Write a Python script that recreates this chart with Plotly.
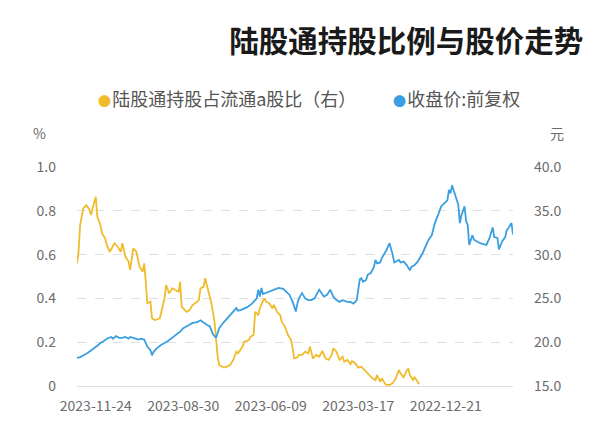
import pandas as pd
import plotly.graph_objects as go

# ---------------- data ----------------
title_text = "陆股通持股比例与股价走势"
price_name = "收盘价:前复权"
ratio_name = "陆股通持股占流通a股比（右）"

holidays = ["2023-01-02", "2023-01-23", "2023-01-24", "2023-01-25", "2023-01-26", "2023-01-27",
            "2023-04-05", "2023-05-01", "2023-05-02", "2023-05-03", "2023-06-22", "2023-06-23",
            "2023-09-29", "2023-10-02", "2023-10-03", "2023-10-04", "2023-10-05", "2023-10-06"]
trading_days = [d.strftime("%Y-%m-%d") for d in pd.bdate_range("2022-10-21", "2023-12-12")
                if d.strftime("%Y-%m-%d") not in holidays]

x_tick_labels = ["2022-12-21", "2023-03-17", "2023-06-09", "2023-08-30", "2023-11-24"]
pct_ticks = [0, 0.2, 0.4, 0.6, 0.8, 1.0]
pct_tick_labels = ["0", "0.2", "0.4", "0.6", "0.8", "1.0"]
price_ticks = [15, 20, 25, 30, 35, 40]

price_dates = [
    "2022-10-21", "2022-10-24", "2022-10-26", "2022-10-27", "2022-10-28", "2022-11-01", "2022-11-03",
    "2022-11-04", "2022-11-08", "2022-11-09", "2022-11-11", "2022-11-15", "2022-11-17", "2022-11-21",
    "2022-11-23", "2022-11-25", "2022-11-28", "2022-11-30", "2022-12-01", "2022-12-02", "2022-12-05",
    "2022-12-07", "2022-12-08", "2022-12-09", "2022-12-13", "2022-12-15", "2022-12-16", "2022-12-19",
    "2022-12-20", "2022-12-22", "2022-12-26", "2022-12-28", "2022-12-30", "2023-01-04", "2023-01-06",
    "2023-01-10", "2023-01-12", "2023-01-17", "2023-01-19", "2023-01-30", "2023-01-31", "2023-02-02",
    "2023-02-06", "2023-02-08", "2023-02-09", "2023-02-14", "2023-02-15", "2023-02-17", "2023-02-20",
    "2023-02-21", "2023-02-24", "2023-02-27", "2023-03-01", "2023-03-02", "2023-03-03", "2023-03-07",
    "2023-03-09", "2023-03-10", "2023-03-14", "2023-03-15", "2023-03-16", "2023-03-17", "2023-03-20",
    "2023-03-22", "2023-03-24", "2023-03-28", "2023-03-31", "2023-04-04", "2023-04-07", "2023-04-11",
    "2023-04-13", "2023-04-17", "2023-04-19", "2023-04-24", "2023-04-25", "2023-04-27", "2023-05-04",
    "2023-05-08", "2023-05-10", "2023-05-12", "2023-05-16", "2023-05-17", "2023-05-18", "2023-05-22",
    "2023-05-24", "2023-05-26", "2023-05-30", "2023-06-02", "2023-06-07", "2023-06-12", "2023-06-14",
    "2023-06-16", "2023-06-19", "2023-06-20", "2023-06-21", "2023-06-26", "2023-06-29", "2023-07-04",
    "2023-07-10", "2023-07-12", "2023-07-13", "2023-07-17", "2023-07-19", "2023-07-21", "2023-07-25",
    "2023-07-28", "2023-08-01", "2023-08-03", "2023-08-07", "2023-08-09", "2023-08-11", "2023-08-15",
    "2023-08-17", "2023-08-22", "2023-08-24", "2023-08-28", "2023-08-30", "2023-09-01", "2023-09-05",
    "2023-09-07", "2023-09-11", "2023-09-13", "2023-09-15", "2023-09-19", "2023-09-22", "2023-09-26",
    "2023-09-27", "2023-09-28", "2023-10-10", "2023-10-12", "2023-10-16", "2023-10-18", "2023-10-23",
    "2023-10-25", "2023-10-26", "2023-10-30", "2023-11-01", "2023-11-03", "2023-11-07", "2023-11-09",
    "2023-11-10", "2023-11-15", "2023-11-17", "2023-11-21", "2023-11-23", "2023-11-27", "2023-11-29",
    "2023-12-01", "2023-12-05", "2023-12-08", "2023-12-12",
]
price_values = [
    32.3, 33.6, 33.0, 32.8, 32.0, 31.5, 30.6,
    31.9, 32.0, 33.1, 31.9, 31.1, 31.2, 31.3,
    31.5, 31.7, 32.2, 31.1, 33.4, 33.8, 35.5,
    34.5, 33.6, 35.7, 36.8, 37.9, 37.0, 37.4,
    36.2, 35.9, 35.5, 34.5, 33.6, 32.2, 31.7,
    30.9, 30.1, 29.2, 28.8, 28.6, 28.2, 28.8,
    29.2, 29.1, 29.4, 29.1, 30.0, 31.3, 30.9,
    30.5, 29.6, 29.1, 29.0, 29.4, 28.6, 27.9,
    27.7, 27.1, 26.9, 27.3, 27.2, 25.8, 24.8,
    24.4, 24.6, 24.6, 24.8, 24.6, 24.8, 25.2,
    26.0, 25.4, 25.2, 26.0, 25.6, 25.0, 24.8,
    24.8, 25.0, 25.6, 25.0, 24.4, 23.5, 24.6,
    25.4, 25.8, 26.1, 26.2, 26.0, 25.8, 25.7,
    25.5, 26.2, 25.2, 26.0, 25.0, 24.4, 24.0,
    23.7, 23.6, 23.9, 23.5, 23.1, 22.8, 22.3,
    21.6, 20.5, 20.9, 21.8, 22.0, 22.3, 22.5,
    22.3, 22.2, 22.0, 21.8, 21.6, 21.2, 20.9,
    20.6, 20.4, 20.1, 19.9, 19.7, 19.3, 18.9,
    18.5, 19.1, 19.5, 20.3, 20.4, 20.3, 20.5,
    20.6, 20.4, 20.6, 20.5, 20.5, 20.7, 20.4,
    20.6, 20.4, 20.1, 19.9, 19.6, 19.3, 19.1,
    18.8, 18.6, 18.3, 18.2,
]

ratio_dates = [
    "2023-01-16", "2023-01-17", "2023-01-19", "2023-01-20", "2023-01-31", "2023-02-01", "2023-02-02",
    "2023-02-06", "2023-02-08", "2023-02-09", "2023-02-13", "2023-02-15", "2023-02-17", "2023-02-21",
    "2023-02-22", "2023-02-24", "2023-02-27", "2023-03-01", "2023-03-02", "2023-03-06", "2023-03-08",
    "2023-03-10", "2023-03-14", "2023-03-15", "2023-03-17", "2023-03-21", "2023-03-23", "2023-03-24",
    "2023-03-28", "2023-03-30", "2023-03-31", "2023-04-04", "2023-04-07", "2023-04-11", "2023-04-12",
    "2023-04-14", "2023-04-18", "2023-04-20", "2023-04-24", "2023-04-26", "2023-04-28", "2023-05-05",
    "2023-05-08", "2023-05-10", "2023-05-12", "2023-05-16", "2023-05-17", "2023-05-19", "2023-05-22",
    "2023-05-23", "2023-05-25", "2023-05-29", "2023-05-31", "2023-06-01", "2023-06-05", "2023-06-07",
    "2023-06-08", "2023-06-12", "2023-06-14", "2023-06-15", "2023-06-16", "2023-06-20", "2023-06-21",
    "2023-06-27", "2023-06-28", "2023-06-30", "2023-07-03", "2023-07-06", "2023-07-07", "2023-07-12",
    "2023-07-13", "2023-07-17", "2023-07-19", "2023-07-21", "2023-07-25", "2023-07-28", "2023-07-31",
    "2023-08-01", "2023-08-02", "2023-08-04", "2023-08-08", "2023-08-09", "2023-08-10", "2023-08-11",
    "2023-08-15", "2023-08-16", "2023-08-17", "2023-08-22", "2023-08-24", "2023-08-28", "2023-08-31",
    "2023-09-01", "2023-09-04", "2023-09-06", "2023-09-08", "2023-09-12", "2023-09-14", "2023-09-15",
    "2023-09-19", "2023-09-20", "2023-09-25", "2023-09-27", "2023-09-28", "2023-10-10", "2023-10-11",
    "2023-10-12", "2023-10-13", "2023-10-17", "2023-10-19", "2023-10-23", "2023-10-25", "2023-10-26",
    "2023-10-30", "2023-11-01", "2023-11-02", "2023-11-06", "2023-11-08", "2023-11-13", "2023-11-15",
    "2023-11-16", "2023-11-20", "2023-11-21", "2023-11-23", "2023-11-24", "2023-11-28", "2023-11-29",
    "2023-11-30", "2023-12-04", "2023-12-06", "2023-12-08", "2023-12-11", "2023-12-12",
]
ratio_values = [
    0.008, 0.02, 0.04, 0.027, 0.05, 0.08, 0.07,
    0.04, 0.058, 0.073, 0.035, 0.012, 0.005, 0.005,
    0.012, 0.035, 0.02, 0.05, 0.027, 0.035, 0.05,
    0.065, 0.078, 0.088, 0.084, 0.104, 0.114, 0.099,
    0.119, 0.111, 0.134, 0.119, 0.157, 0.172, 0.142,
    0.119, 0.126, 0.160, 0.134, 0.142, 0.126, 0.18,
    0.149, 0.157, 0.142, 0.142, 0.13, 0.126, 0.172,
    0.21, 0.233, 0.271, 0.294, 0.324, 0.339, 0.37,
    0.355, 0.378, 0.385, 0.40, 0.388, 0.355, 0.324,
    0.339, 0.233, 0.225, 0.21, 0.202, 0.18, 0.149,
    0.157, 0.119, 0.096, 0.088, 0.084, 0.096, 0.134,
    0.218, 0.294, 0.378, 0.438, 0.469, 0.492, 0.453,
    0.446, 0.393, 0.385, 0.37, 0.347, 0.339, 0.362,
    0.476, 0.43, 0.438, 0.446, 0.423, 0.461, 0.40,
    0.339, 0.309, 0.301, 0.309, 0.385, 0.378, 0.476,
    0.56, 0.522, 0.545, 0.613, 0.629, 0.53, 0.568,
    0.59, 0.652, 0.613, 0.636, 0.652, 0.613, 0.644,
    0.674, 0.697, 0.735, 0.773, 0.864, 0.811, 0.781,
    0.804, 0.826, 0.811, 0.735, 0.613, 0.56,
]

# ---------------- style ----------------
BLUE = "#3a9fe0"
YELLOW = "#f0bc2c"
FONT = "Noto Sans CJK SC"
TICK_COLOR = "#6b6b6b"
LEGEND_COLOR = "#555555"

fig = go.Figure()
fig.add_trace(go.Scatter(x=price_dates, y=price_values, yaxis="y2", mode="lines",
                         line=dict(color=BLUE, width=1.8), name=price_name, showlegend=False))
fig.add_trace(go.Scatter(x=ratio_dates, y=ratio_values, yaxis="y", mode="lines",
                         line=dict(color=YELLOW, width=1.8), name=ratio_name, showlegend=False))


def legend_entry(color, label):
    return (f"<span style='color:{color};font-size:13px'>●</span>"
            f"<span style='font-size:5px'> </span>{label}")


n_days = len(trading_days)
legend_y = (386 - 98) / 219          # paper coords (plot area spans y 167..386 px)
fig.update_layout(
    width=600, height=446,
    margin=dict(l=77, r=87, t=167, b=60),
    paper_bgcolor="white", plot_bgcolor="white",
    font=dict(family=FONT, size=14, color=TICK_COLOR),
    title=dict(text=title_text, xref="container", yref="container", x=0.972, xanchor="right",
               y=0.906, yanchor="middle",
               font=dict(family=FONT, size=29.5, color="#1a1a1a", weight="bold")),
    showlegend=False,
    xaxis=dict(type="category", categoryorder="array", categoryarray=trading_days,
               range=[n_days - 1, 0], tickvals=x_tick_labels, ticktext=x_tick_labels,
               showgrid=False, zeroline=False, showline=False, ticks="",
               ticklabelstandoff=10, tickfont=dict(size=14, color=TICK_COLOR)),
    yaxis=dict(range=[0, 1.0], tickvals=pct_ticks, ticktext=pct_tick_labels,
               showgrid=True, gridcolor="#e0e0e0", griddash="dash", gridwidth=1,
               zeroline=True, zerolinecolor="#dddddd", zerolinewidth=1,
               showline=False, ticks="", ticklabelstandoff=20,
               tickfont=dict(size=14, color=TICK_COLOR)),
    yaxis2=dict(range=[15, 40], tickvals=price_ticks, tickformat=".1f",
                overlaying="y", side="right", showgrid=False, zeroline=False,
                showline=False, ticks="", ticklabelstandoff=20,
                tickfont=dict(size=14, color=TICK_COLOR)),
    annotations=[
        dict(text="%", xref="paper", yref="paper", x=-0.085, y=1.155, showarrow=False,
             font=dict(size=14, color=TICK_COLOR), xanchor="center", yanchor="middle"),
        dict(text="元", xref="paper", yref="paper", x=1.101, y=1.155, showarrow=False,
             font=dict(size=14, color=TICK_COLOR), xanchor="center", yanchor="middle"),
        dict(text=legend_entry(YELLOW, ratio_name), xref="paper", yref="paper",
             x=(96 - 77) / 436, y=legend_y, xanchor="left", yanchor="middle", showarrow=False,
             font=dict(family=FONT, size=18, color=LEGEND_COLOR)),
        dict(text=legend_entry(BLUE, price_name), xref="paper", yref="paper",
             x=(522 - 77) / 436, y=legend_y, xanchor="right", yanchor="middle", showarrow=False,
             font=dict(family=FONT, size=18, color=LEGEND_COLOR)),
    ],
)

fig.write_html("out.html")
